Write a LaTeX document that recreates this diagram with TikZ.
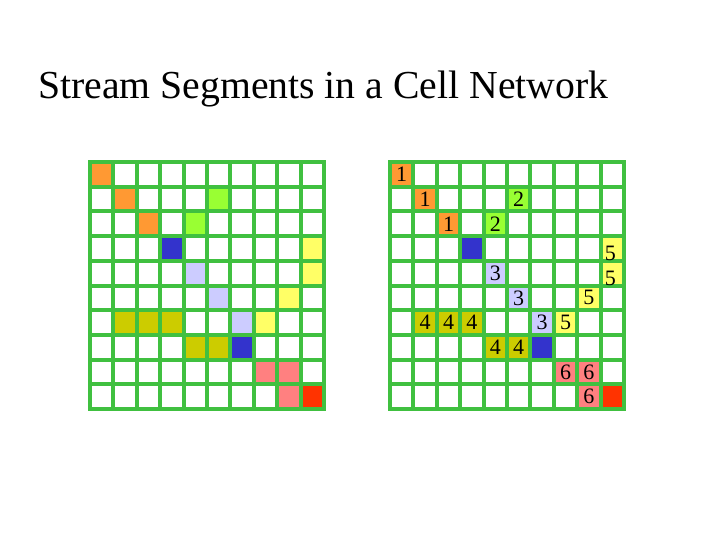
\documentclass[tikz,border=0pt]{standalone}
\usepackage{fontspec}
\setmainfont{Liberation Serif}
\usetikzlibrary{positioning}

\definecolor{gridgreen}{RGB}{64,192,64}
\definecolor{segorange}{RGB}{255,153,51}
\definecolor{seglime}{RGB}{153,255,51}
\definecolor{segblue}{RGB}{51,51,204}
\definecolor{seglav}{RGB}{204,204,255}
\definecolor{segyellow}{RGB}{255,255,102}
\definecolor{segolive}{RGB}{204,204,0}
\definecolor{segpink}{RGB}{255,128,128}
\definecolor{segred}{RGB}{255,51,0}

\begin{document}
\begin{tikzpicture}[x=1pt, y=-1pt,
    cellline/.style={draw=gridgreen, line width=4pt, line cap=rect},
    num/.style={font=\fontsize{22}{22}\selectfont, inner sep=0pt},
    heading/.style={font=\fontsize{39.7}{39.7}\selectfont, inner sep=0pt, anchor=base west}
]
\useasboundingbox (0,0) rectangle (720,540);
\node[heading] (title) at (38,99) {Stream Segments in a Cell Network};

% left network: cells only
\begin{scope}[shift={(90,162)}, x=23.4pt, y=-24.7pt]
  \foreach \r/\c/\col in {0/0/segorange, 1/1/segorange, 2/2/segorange,
      1/5/seglime, 2/4/seglime, 3/3/segblue, 7/6/segblue,
      4/4/seglav, 5/5/seglav, 6/6/seglav,
      3/9/segyellow, 4/9/segyellow, 5/8/segyellow, 6/7/segyellow,
      6/1/segolive, 6/2/segolive, 6/3/segolive, 7/4/segolive, 7/5/segolive,
      8/7/segpink, 8/8/segpink, 9/8/segpink, 9/9/segred}
    \fill[\col] (\c,\r) rectangle ++(1,1);
  \foreach \i in {0,...,10} {
    \draw[cellline] (\i,0) -- (\i,10);
    \draw[cellline] (0,\i) -- (10,\i);
  }
\end{scope}

% right network: cells with segment numbers
\begin{scope}[shift={(390,162)}, x=23.4pt, y=-24.7pt]
  \foreach \r/\c/\col in {0/0/segorange, 1/1/segorange, 2/2/segorange,
      1/5/seglime, 2/4/seglime, 3/3/segblue, 7/6/segblue,
      4/4/seglav, 5/5/seglav, 6/6/seglav,
      3/9/segyellow, 4/9/segyellow, 5/8/segyellow, 6/7/segyellow,
      6/1/segolive, 6/2/segolive, 6/3/segolive, 7/4/segolive, 7/5/segolive,
      8/7/segpink, 8/8/segpink, 9/8/segpink, 9/9/segred}
    \fill[\col] (\c,\r) rectangle ++(1,1);
  \foreach \i in {0,...,10} {
    \draw[cellline] (\i,0) -- (\i,10);
    \draw[cellline] (0,\i) -- (10,\i);
  }
  \foreach \r/\c/\n in {0/0/1, 1/1/1, 2/2/1, 1/5/2, 2/4/2,
      4/4/3, 5/5/3, 6/6/3, 6/1/4, 6/2/4, 6/3/4, 7/4/4, 7/5/4,
      5/8/5, 6/7/5, 8/7/6, 8/8/6, 9/8/6}
    \node[num] (seg-\r-\c) at (\c+0.5,\r+0.5) {\n};
  \node[num, yshift=-5pt, xshift=-2pt] (seg-3-9) at (9.5,3.5) {5};
  \node[num, yshift=-5pt, xshift=-2pt] (seg-4-9) at (9.5,4.5) {5};
\end{scope}
\end{tikzpicture}
\end{document}
